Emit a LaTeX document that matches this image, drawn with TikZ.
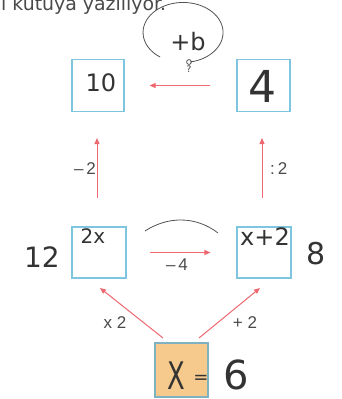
\documentclass[tikz,border=0pt]{standalone}
\usepackage{fontspec}
\setmainfont{Liberation Sans}
\newfontfamily\hand{DejaVu Sans}
\usetikzlibrary{arrows.meta}
\definecolor{boxblue}{HTML}{7EC6DF}
\definecolor{arrred}{HTML}{EE6870}
\definecolor{ink}{HTML}{333333}
\definecolor{fillor}{HTML}{F6C98D}
\definecolor{txt}{HTML}{4A4A4A}
\tikzset{
  numbox/.style={draw=boxblue, line width=1.1pt, minimum width=#1, minimum height=52pt, inner sep=0pt},
  redarrow/.style={draw=arrred, line width=1pt, -{Triangle[length=6pt,width=5pt]}},
  lbl/.style={font=\fontsize{17}{18}\selectfont, text=txt, inner sep=0pt},
  handw/.style={font=\hand\fontsize{#1}{#1}\selectfont, text=ink, inner sep=0pt},
  pencil/.style={draw=ink!85, line width=0.8pt}
}
\begin{document}
\begin{tikzpicture}[x=1pt,y=-1pt]
\useasboundingbox (0,0) rectangle (341,399);
\begin{scope}
\clip (0,0) rectangle (341,399);
\node[anchor=base west, font=\hand\fontsize{18.9}{20}\selectfont, text=txt, inner sep=0pt] (hdr) at (1,10) {\llap{ğ}i kutuya yazılıyor.};
\end{scope}
% boxes
\node[numbox=52pt] (t10) at (98,85.5) {};
\node[numbox=53pt] (t4) at (263.5,85.5) {};
\node[numbox=54pt, minimum height=51pt] (m2x) at (99,252.5) {};
\node[numbox=54pt, minimum height=51pt] (mx2) at (264,252.5) {};
\node[numbox=53pt, minimum height=54pt, fill=fillor, draw=boxblue!70!gray] (ox) at (181.5,370) {};
% box texts
\node[handw=24] (n10) at (101,83) {10};
\node[handw=44] (n4) at (262,86) {4};
\node[handw=20] (n2x) at (93,236) {2x};
\node[handw=24] (nx2) at (265,237) {x+2};
\node[handw=38, anchor=base] (nX) at (176,389) {\scalebox{0.68}[1]{X}};
\node[handw=18, anchor=base] (neq) at (201,383) {=};
\node[handw=40, anchor=base] (n6) at (236,389) {6};
\node[handw=28] (n12) at (42,257) {12};
\node[handw=30] (n8) at (316,254) {8};
% arrows
\draw[redarrow, shorten <=26pt, shorten >=25pt] (t4.west) -- (t10.east);
\draw[redarrow, shorten <=23pt, shorten >=26pt] (m2x.east) -- (mx2.west);
\coordinate (l1) at (97,198);
\coordinate (l2) at (97,138);
\coordinate (r1) at (262,198);
\coordinate (r2) at (262,138);
\draw[redarrow] (l1) -- (l2);
\draw[redarrow] (r1) -- (r2);
\coordinate (d1) at (163,338);
\coordinate (d2) at (100,288);
\coordinate (d3) at (199,338);
\coordinate (d4) at (260,288);
\draw[redarrow] (d1) -- (d2);
\draw[redarrow] (d3) -- (d4);
% labels
\node[lbl, anchor=east] (lm2) at (96,169) {–\,2};
\node[lbl, anchor=west] (ld2) at (270,169) {:\,2};
\node[lbl] (lm4) at (177,265) {–\,4};
\node[lbl] (lx2) at (115,323) {x 2};
\node[lbl] (lp2) at (245,323) {+ 2};
% handwritten annotations
\node[handw=24] (pb) at (188,42) {+b};
\draw[pencil] (190,62) arc[start angle=80, end angle=-235, x radius=40, y radius=30];
\draw[pencil] (189,62) circle[radius=2.4];
\node[handw=9] (q) at (189,69) {?};
\draw[pencil] (145,231) .. controls (168,216) and (196,216) .. (218,233);
\end{tikzpicture}
\end{document}
